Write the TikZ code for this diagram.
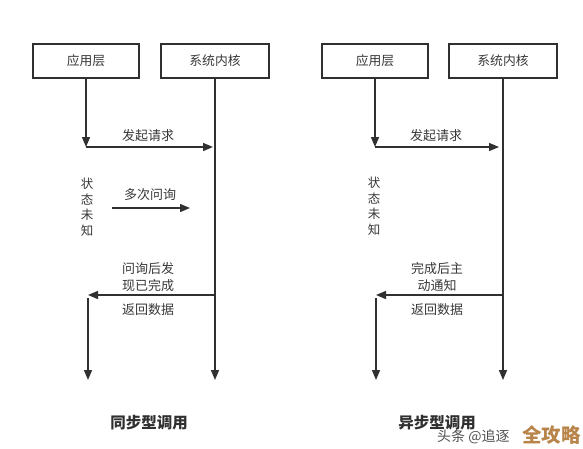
\documentclass[tikz,border=0pt]{standalone}
\usepackage{fontspec}
\newfontfamily\cjk{Noto Sans CJK SC}
\usetikzlibrary{arrows.meta}
\definecolor{linec}{HTML}{303030}
\definecolor{textc}{HTML}{383838}
\definecolor{wmgray}{HTML}{505050}
\definecolor{wmgold}{HTML}{B8844A}
\begin{document}
\begin{tikzpicture}[x=1pt,y=-1pt,
  box/.style={draw=linec, line width=1.6pt, minimum height=34pt, inner sep=0pt,
    font=\cjk\fontsize{12.8}{14}\selectfont, text=textc},
  lbl/.style={font=\cjk\fontsize{13}{17.5}\selectfont, text=textc, align=center, inner sep=1pt},
  vlbl/.style={font=\cjk\fontsize{12.5}{15.5}\selectfont, text=textc, align=center, inner sep=1pt},
  title/.style={font=\cjk\bfseries\fontsize{15.5}{18}\selectfont, text=linec},
  flow/.style={draw=linec, line width=1.4pt, -{Triangle[length=10pt,width=8pt]}},
  plain/.style={draw=linec, line width=1.4pt}]
\useasboundingbox[fill=white] (0,0) rectangle (583,448);

% ---------- left: synchronous ----------
\node[box, minimum width=106pt] (appL) at (86,61) {应用层};
\node[box, minimum width=108pt] (kerL) at (215,61) {系统内核};
\coordinate (reqL) at (appL.south |- 0,147);
\coordinate (reqLend) at (213,147);
\coordinate (kerLend) at (kerL.south |- 0,380);
\coordinate (retLs) at (kerL.south |- 0,295);
\coordinate (retLe) at (88,295);
\coordinate (retLd) at (88,298);
\coordinate (appLend) at (88,380);
\coordinate (pollLa) at (112,208);
\coordinate (pollLb) at (190,208);

\draw[flow] (appL.south) -- (reqL);
\draw[flow] (reqL) -- (reqLend);
\draw[flow] (kerL.south) -- (kerLend);
\draw[flow] (pollLa) -- (pollLb);
\draw[flow] (retLs) -- (retLe);
\draw[flow] (retLd) -- (appLend);

\node[lbl] (reqLt) at (148,136) {发起请求};
\node[lbl] (pollLt) at (150,195) {多次问询};
\node[vlbl] (stateL) at (87,207) {状\\态\\未\\知};
\node[lbl] (foundL) at (148,277) {问询后发\\现已完成};
\node[lbl] (retLt) at (148,310) {返回数据};
\node[title] (titleL) at (149,423) {同步型调用};

% ---------- right: asynchronous ----------
\node[box, minimum width=106pt] (appR) at (375,61) {应用层};
\node[box, minimum width=108pt] (kerR) at (503,61) {系统内核};
\coordinate (reqR) at (appR.south |- 0,147);
\coordinate (reqRend) at (499,147);
\coordinate (kerRend) at (kerR.south |- 0,380);
\coordinate (retRs) at (kerR.south |- 0,295);
\coordinate (retRe) at (376,295);
\coordinate (retRd) at (376,298);
\coordinate (appRend) at (376,380);

\draw[flow] (appR.south) -- (reqR);
\draw[flow] (reqR) -- (reqRend);
\draw[flow] (kerR.south) -- (kerRend);
\draw[flow] (retRs) -- (retRe);
\draw[flow] (retRd) -- (appRend);

\node[lbl] (reqRt) at (436,136) {发起请求};
\node[vlbl] (stateR) at (374,206) {状\\态\\未\\知};
\node[lbl] (doneR) at (437,277) {完成后主\\动通知};
\node[lbl] (retRt) at (437,310) {返回数据};
\node[title] (titleR) at (437,423) {异步型调用};

% ---------- watermark ----------
\node[font=\cjk\fontsize{14}{16}\selectfont, text=wmgray, anchor=west, inner sep=0pt] (wm1) at (437,437) {头条 @追逐};
\node[font=\cjk\bfseries\fontsize{19.5}{21}\selectfont, text=wmgold, anchor=east, inner sep=0pt] (wm2) at (581,435) {全攻略};
\end{tikzpicture}
\end{document}
